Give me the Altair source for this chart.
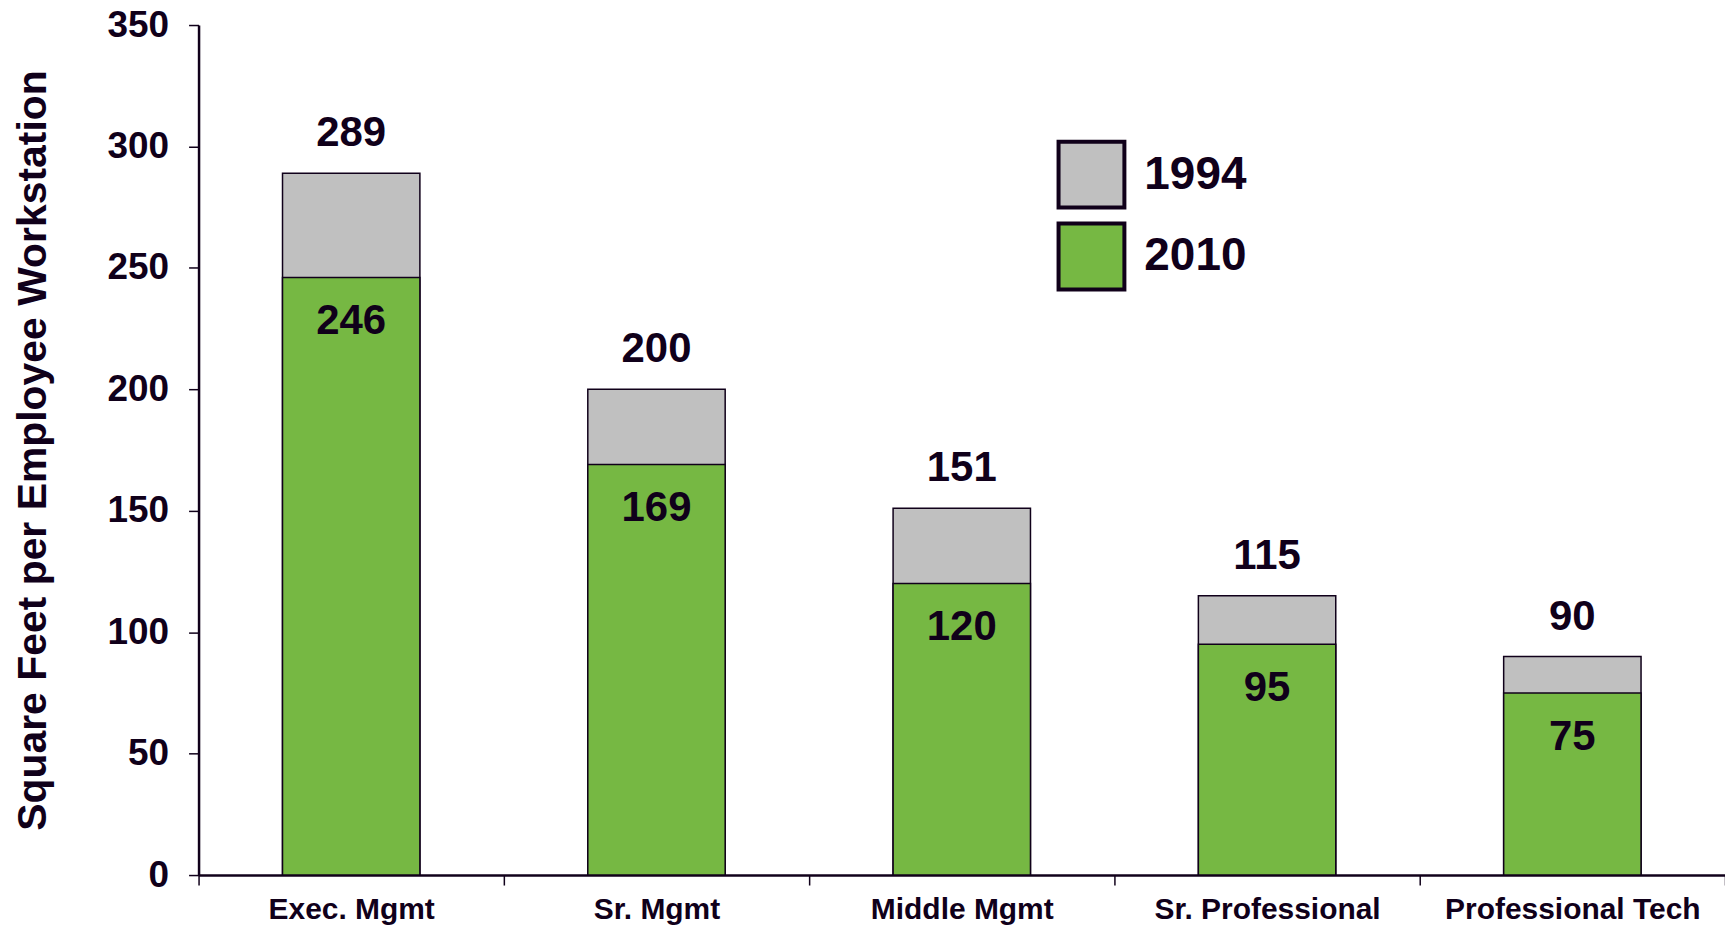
import altair as alt
import pandas as pd

categories = ["Exec. Mgmt", "Sr.  Mgmt", "Middle Mgmt", "Sr. Professional", "Professional Tech"]
values_1994 = [289, 200, 151, 115, 90]
values_2010 = [246, 169, 120, 95, 75]
years = ["1994", "2010"]
colors = ["#C0C0C0", "#76B843"]
y_ticks = [0, 50, 100, 150, 200, 250, 300, 350]

rows = []
for c, v in zip(categories, values_1994):
    rows.append({"cat": c, "year": "1994", "value": v})
for c, v in zip(categories, values_2010):
    rows.append({"cat": c, "year": "2010", "value": v})
df = pd.DataFrame(rows)

FONT = "Liberation Sans, Arial, sans-serif"
DARK = "#10001a"

x_enc = alt.X("cat:N", sort=categories, title=None,
              scale=alt.Scale(paddingInner=0, paddingOuter=0),
              axis=alt.Axis(labelAngle=0, labelFont=FONT, labelFontSize=30, labelFontWeight="bold",
                            labelColor=DARK, labelPadding=10, tickBand="extent", tickSize=10,
                            tickColor=DARK, tickWidth=1.5, domainColor=DARK, domainWidth=2.5,
                            labelBaseline="top", labelLimit=0))
y_enc = alt.Y("value:Q", stack=None,
              scale=alt.Scale(domain=[0, 350], nice=False),
              axis=alt.Axis(values=y_ticks, grid=False, labelFont=FONT, labelFontSize=37,
                            labelFontWeight="bold", labelColor=DARK, labelPadding=20,
                            tickSize=10, tickColor=DARK, tickWidth=1.5, domainColor=DARK,
                            domainWidth=2.5,
                            title="Square Feet per Employee Workstation",
                            titleFont=FONT, titleFontSize=41, titleFontWeight="bold",
                            titleColor=DARK, titleAngle=270, titleX=-165, titleY=426,
                            titleAlign="center", titleBaseline="middle"))

bars = alt.Chart(df).mark_bar(stroke=DARK, strokeWidth=1.5,
                              width=alt.RelativeBandSize(0.45)).encode(
    x=x_enc,
    y=y_enc,
    color=alt.Color("year:N", scale=alt.Scale(domain=years, range=colors),
                    legend=alt.Legend(title=None, orient="none", legendX=860, legendY=115,
                                      symbolType="square", symbolSize=4356,
                                      symbolStrokeColor=DARK, symbolStrokeWidth=4,
                                      symbolOpacity=1,
                                      labelFont=FONT, labelFontSize=46, labelFontWeight="bold",
                                      labelColor=DARK, labelOffset=18, rowPadding=0,
                                      padding=0, offset=0)),
    order=alt.Order("year:N", sort="ascending"),
)

top_labels = alt.Chart(df).transform_filter(alt.datum.year == "1994").mark_text(
    font=FONT, fontSize=42, fontWeight="bold", color=DARK, baseline="bottom", dy=-18
).encode(x=alt.X("cat:N", sort=categories), y=alt.Y("value:Q"), text="value:Q")

inner_labels = alt.Chart(df).transform_filter(alt.datum.year == "2010").mark_text(
    font=FONT, fontSize=42, fontWeight="bold", color=DARK, baseline="top", dy=24
).encode(x=alt.X("cat:N", sort=categories), y=alt.Y("value:Q"), text="value:Q")

chart = alt.layer(bars, top_labels, inner_labels).properties(
    width=1530, height=852,
    autosize=alt.AutoSizeParams(type="none"),
    padding={"left": 191, "top": 16, "right": 0, "bottom": 50},
).configure(background="white").configure_view(stroke=None)

chart.save("out.html", embed_options={"renderer": "svg", "actions": False})
